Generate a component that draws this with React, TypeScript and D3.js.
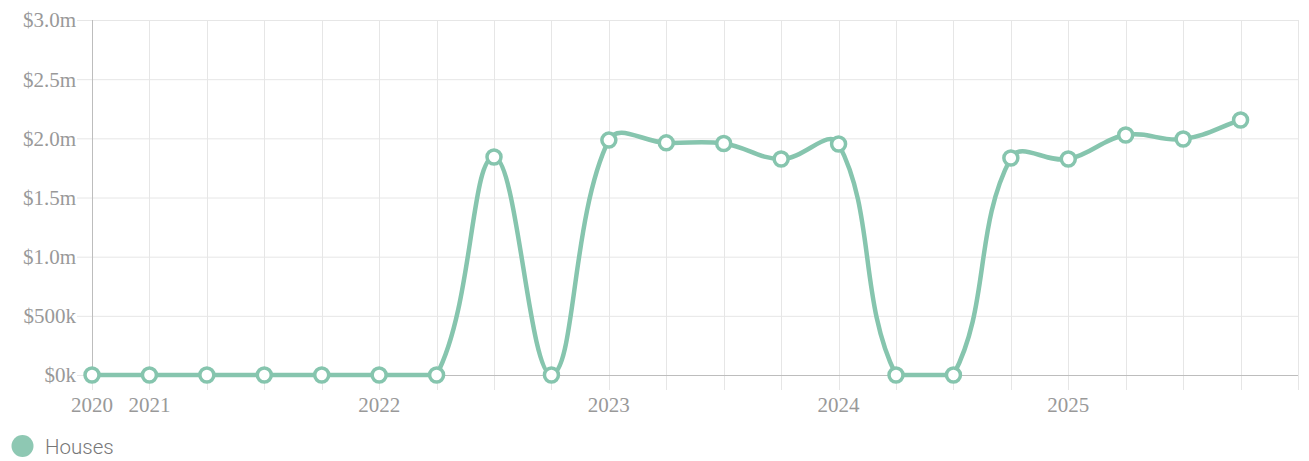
import React, { useEffect, useRef } from "react";
import * as d3 from "d3";

// quarterly median price, houses (last slot left empty on purpose)
const periods = [
  "2020", "2021", "", "", "", "2022", "", "", "", "2023", "", "",
  "", "2024", "", "", "", "2025", "", "", "", "",
];
const houses = [
  0, 0, 0, 0, 0, 0, 0, 1842000, 0, 1985000, 1962000, 1956000,
  1825000, 1952000, 0, 0, 1834000, 1825000, 2028000, 1994000, 2155000,
];
const yTicks = [0, 500000, 1000000, 1500000, 2000000, 2500000, 3000000];
const seriesName = "Houses";

const fmtMoney = (v: number) =>
  v >= 1000000 ? "$" + (v / 1000000).toFixed(1) + "m" : "$" + Math.round(v / 1000) + "k";

// chart.js style bezier (tension 0.4, control points capped to the plot area)
function splineCurve(tension: number, area: { top: number; bottom: number; left: number; right: number }) {
  return (context: any) => {
    let pts: [number, number][] = [];
    return {
      areaStart() {},
      areaEnd() {},
      lineStart() { pts = []; },
      point(x: number, y: number) { pts.push([+x, +y]); },
      lineEnd() {
        const n = pts.length;
        if (!n) return;
        const cps = pts.map((cur, i) => {
          const prev = pts[Math.max(0, i - 1)];
          const next = pts[Math.min(n - 1, i + 1)];
          const d01 = Math.hypot(cur[0] - prev[0], cur[1] - prev[1]);
          const d12 = Math.hypot(next[0] - cur[0], next[1] - cur[1]);
          let s01 = d01 / (d01 + d12);
          let s12 = d12 / (d01 + d12);
          if (isNaN(s01)) s01 = 0;
          if (isNaN(s12)) s12 = 0;
          const fa = tension * s01;
          const fb = tension * s12;
          const cap = (p: [number, number]): [number, number] => [
            Math.min(Math.max(p[0], area.left), area.right),
            Math.min(Math.max(p[1], area.top), area.bottom),
          ];
          return {
            before: cap([cur[0] - fa * (next[0] - prev[0]), cur[1] - fa * (next[1] - prev[1])]),
            after: cap([cur[0] + fb * (next[0] - prev[0]), cur[1] + fb * (next[1] - prev[1])]),
          };
        });
        context.moveTo(pts[0][0], pts[0][1]);
        for (let i = 1; i < n; i++) {
          const a = cps[i - 1].after;
          const b = cps[i].before;
          context.bezierCurveTo(a[0], a[1], b[0], b[1], pts[i][0], pts[i][1]);
        }
      },
    };
  };
}

function App() {
  const chart = useRef<SVGSVGElement>(null);

  useEffect(() => {
    const width = 1309;
    const height = 461;
    const margin = { top: 20, right: 11, bottom: 86, left: 92 };
    const svg = d3.select(chart.current).attr("width", width).attr("height", height);
    svg.selectAll("*").remove();

    const area = {
      left: margin.left,
      right: width - margin.right,
      top: margin.top,
      bottom: height - margin.bottom,
    };

    const x = d3.scalePoint<number>()
      .domain(periods.map((d, i) => i))
      .range([area.left, area.right]);

    const y = d3.scaleLinear()
      .domain([0, 3000000])
      .range([area.bottom, area.top]);

    const grid = svg.append("g");

    // horizontal grid + y ticks
    grid.selectAll(".hgrid")
      .data(yTicks)
      .enter()
      .append("line")
        .attr("x1", area.left - 15)
        .attr("x2", area.right)
        .attr("y1", d => y(d) + 0.5)
        .attr("y2", d => y(d) + 0.5)
        .attr("stroke", "#e6e6e6")
        .attr("stroke-width", 1);

    // vertical grid + x ticks
    grid.selectAll(".vgrid")
      .data(periods.map((d, i) => i))
      .enter()
      .append("line")
        .attr("x1", d => Math.round(x(d)!) + 0.5)
        .attr("x2", d => Math.round(x(d)!) + 0.5)
        .attr("y1", area.top)
        .attr("y2", area.bottom + 15)
        .attr("stroke", "#e6e6e6")
        .attr("stroke-width", 1);

    // axis lines
    svg.append("line")
      .attr("x1", area.left + 0.5).attr("x2", area.left + 0.5)
      .attr("y1", area.top).attr("y2", area.bottom)
      .attr("stroke", "#bdbdbd");
    svg.append("line")
      .attr("x1", area.left).attr("x2", area.right)
      .attr("y1", area.bottom + 0.5).attr("y2", area.bottom + 0.5)
      .attr("stroke", "#bdbdbd");

    svg.selectAll(".ylabel")
      .data(yTicks)
      .enter()
      .append("text")
        .attr("x", area.left - 16)
        .attr("y", d => y(d))
        .attr("dy", "0.35em")
        .attr("text-anchor", "end")
        .attr("font-family", "'Liberation Serif', serif")
        .attr("font-size", 21)
        .attr("fill", "#999")
        .text(d => fmtMoney(d));

    svg.selectAll(".xlabel")
      .data(periods.map((label, i) => ({ label, i })).filter(d => d.label))
      .enter()
      .append("text")
        .attr("x", d => x(d.i)!)
        .attr("y", area.bottom + 37)
        .attr("text-anchor", "middle")
        .attr("font-family", "'Liberation Serif', serif")
        .attr("font-size", 21)
        .attr("fill", "#999")
        .text(d => d.label);

    const color = "#86c5ae";

    const line = d3.line<number>()
      .x((d, i) => x(i)!)
      .y(d => y(d))
      .curve(splineCurve(0.4, area) as any);

    svg.append("path")
      .datum(houses)
      .attr("d", line)
      .attr("fill", "none")
      .attr("stroke", color)
      .attr("stroke-width", 4.5);

    svg.selectAll(".point")
      .data(houses)
      .enter()
      .append("circle")
        .attr("cx", (d, i) => x(i)!)
        .attr("cy", d => y(d))
        .attr("r", 7)
        .attr("fill", "#fff")
        .attr("stroke", color)
        .attr("stroke-width", 3.5);

    // legend
    svg.append("circle")
      .attr("cx", 22.5)
      .attr("cy", 446)
      .attr("r", 11)
      .attr("fill", "#8ec8b3");
    svg.append("text")
      .attr("x", 45)
      .attr("y", 454)
      .attr("font-family", "Roboto, sans-serif")
      .attr("font-size", 20.5)
      .attr("font-weight", 300)
      .attr("fill", "#777")
      .text(seriesName);

    return () => {
      svg.selectAll("*").remove();
    };
  }, []);

  return (
    <svg ref={chart} style={{ position: "absolute", left: 0, top: 0 }}></svg>
  );
}

export default App;
